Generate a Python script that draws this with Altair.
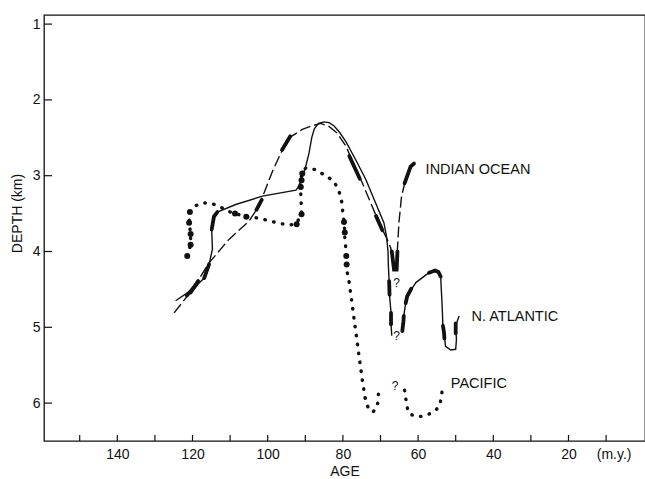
import altair as alt
import pandas as pd

# ---------------- data ----------------
AGE_LABEL_TICKS = [140, 120, 100, 80, 60, 40, 20, 8]      # 8 -> "(m.y.)"
AGE_ALL_TICKS = [150, 140, 130, 120, 110, 100, 90, 80, 70, 60, 50, 40, 30, 20, 10]
DEPTH_TICKS = [1, 2, 3, 4, 5, 6]

INDIAN_AGE = [124.9, 120.0, 115.6, 110.3, 105.0, 102.3, 101.0, 98.8, 96.5, 94.3, 90.8,
              88.1, 85.9, 83.7, 81.5, 79.2, 77.0, 74.8, 72.6, 70.4, 68.6, 67.3, 66.8,
              66.4, 65.7, 65.5, 65.1, 64.4, 63.3, 62.0, 61.1]
INDIAN_DEPTH = [4.81, 4.50, 4.15, 3.84, 3.60, 3.40, 3.23, 2.95, 2.70, 2.50, 2.39,
                2.34, 2.31, 2.35, 2.44, 2.61, 2.86, 3.10, 3.36, 3.62, 3.80, 3.95, 4.05,
                4.24, 4.24, 3.97, 3.62, 3.27, 3.05, 2.88, 2.84]
INDIAN_THICK = [
    [(120.5, 4.54), (118.5, 4.39)],
    [(103.0, 3.45), (101.6, 3.32)],
    [(96.2, 2.66), (94.0, 2.48)],
    [(78.3, 2.74), (75.5, 3.04)],
    [(71.2, 3.53), (69.5, 3.72)],
    [(67.0, 4.00), (66.4, 4.24), (65.7, 4.24), (65.5, 4.00)],
    [(63.6, 3.10), (62.0, 2.88), (61.1, 2.84)],
]

NATL_SEGS = [
    ([124.5, 120.0, 116.9, 115.6, 114.7, 114.9, 114.3, 113.4, 108.5, 101.4, 92.5, 92.0,
      91.0, 89.9, 89.0, 88.3, 87.6, 86.5, 85.0, 83.7, 82.4, 81.0, 79.2, 76.6, 73.9,
      71.3, 69.1, 68.4, 68.0, 67.9, 67.7, 67.6, 67.2, 67.2, 67.0],
     [4.65, 4.50, 4.35, 4.17, 3.97, 3.71, 3.54, 3.48, 3.38, 3.27, 3.19, 3.16,
      3.05, 2.88, 2.70, 2.50, 2.38, 2.31, 2.29, 2.30, 2.34, 2.42, 2.55, 2.79, 3.05,
      3.36, 3.62, 3.80, 4.00, 4.20, 4.39, 4.57, 4.81, 4.96, 5.11]),
    ([64.2, 63.9, 63.7, 63.3, 62.9, 60.6, 57.1, 55.5, 54.6, 54.0, 53.6, 53.4, 53.1,
      52.7, 51.3, 50.0, 49.8, 50.0, 49.1],
     [5.05, 4.92, 4.81, 4.68, 4.59, 4.41, 4.28, 4.25, 4.27, 4.33, 4.72, 4.98, 5.07,
      5.25, 5.30, 5.29, 5.16, 4.98, 4.85]),
]
NATL_THICK = [
    [(121.5, 4.58), (119.0, 4.44)],
    [(116.9, 4.35), (115.6, 4.17)],
    [(114.9, 3.71), (114.3, 3.54), (113.4, 3.48)],
    [(67.7, 4.39), (67.6, 4.57)],
    [(67.2, 4.81), (67.2, 4.96)],
    [(64.2, 5.05), (63.9, 4.92), (63.8, 4.85)],
    [(63.3, 4.68), (62.9, 4.59), (61.8, 4.49)],
    [(57.1, 4.28), (55.5, 4.25), (54.6, 4.27), (54.0, 4.33)],
    [(53.4, 4.98), (53.1, 5.07), (53.0, 5.15)],
    [(50.0, 5.08), (50.0, 4.95)],
]

PAC_SEGS = [
    ([121.4, 120.5, 120.5, 120.9, 120.7, 119.4, 117.4, 115.3, 113.1, 110.5, 108.7, 105.7,
      102.3, 99.2, 96.8, 94.3, 92.5, 91.0, 91.0, 91.2, 91.2, 90.8, 89.9, 87.2, 85.0,
      82.4, 81.0, 80.3, 80.0, 79.7, 79.5, 79.5, 79.2, 79.1, 79.0, 78.8, 78.4, 77.8,
      77.2, 76.6, 76.0, 75.4, 74.8, 74.1, 73.3, 72.0, 70.8, 70.6, 70.4],
     [4.06, 3.91, 3.77, 3.62, 3.48, 3.40, 3.36, 3.36, 3.40, 3.47, 3.50, 3.54,
      3.56, 3.60, 3.63, 3.65, 3.64, 3.51, 3.40, 3.32, 3.05, 2.96, 2.90, 2.92, 2.99,
      3.07, 3.21, 3.35, 3.49, 3.61, 3.75, 3.86, 3.96, 4.06, 4.17, 4.29, 4.39, 4.60,
      4.83, 5.05, 5.27, 5.49, 5.71, 5.93, 6.06, 6.12, 6.03, 5.90, 5.79]),
    ([63.6, 63.3, 63.0, 62.4, 60.4, 58.2, 56.0, 54.4, 54.0, 53.7, 53.4],
     [5.83, 5.93, 6.04, 6.14, 6.18, 6.17, 6.12, 6.05, 5.97, 5.87, 5.76]),
]
PAC_BIG_AGE = [121.4, 120.5, 120.5, 120.9, 120.7, 108.7, 105.7, 92.3, 91.0, 91.2, 91.0,
               90.8, 79.7, 79.5, 79.1, 79.0]
PAC_BIG_DEPTH = [4.06, 3.91, 3.77, 3.62, 3.48, 3.50, 3.54, 3.64, 3.51, 3.15, 3.06,
                 2.97, 3.61, 3.75, 4.06, 4.17]

LABEL_TEXT = ["INDIAN OCEAN", "N. ATLANTIC", "PACIFIC"]
LABEL_AGE = [58.0, 45.8, 51.3]
LABEL_DEPTH = [2.93, 4.87, 5.75]

Q_AGE = [65.7, 65.7, 66.1]
Q_DEPTH = [4.42, 5.11, 5.77]

# ---------------- build tables ----------------
def path_df(segs):
    rows = []
    for s, (ages, depths) in enumerate(segs):
        for i, (a, d) in enumerate(zip(ages, depths)):
            rows.append({"age": a, "depth": d, "seg": s, "i": i})
    return pd.DataFrame(rows)

def thick_df(segs):
    rows = []
    for s, pts in enumerate(segs):
        for i, (a, d) in enumerate(pts):
            rows.append({"age": a, "depth": d, "seg": s, "i": i})
    return pd.DataFrame(rows)

indian = path_df([(INDIAN_AGE, INDIAN_DEPTH)])
indian_thick = thick_df(INDIAN_THICK)
natl = path_df(NATL_SEGS)
natl_thick = thick_df(NATL_THICK)
pac = path_df(PAC_SEGS)
pac_big = pd.DataFrame({"age": PAC_BIG_AGE, "depth": PAC_BIG_DEPTH})
labels = pd.DataFrame({"age": LABEL_AGE, "depth": LABEL_DEPTH, "text": LABEL_TEXT})
qmarks = pd.DataFrame({"age": Q_AGE, "depth": Q_DEPTH, "text": ["?"] * len(Q_AGE)})
xticks = pd.DataFrame({"age": AGE_ALL_TICKS})
yticks = pd.DataFrame({"depth": DEPTH_TICKS})

W, H = 601, 426
FONT = "Liberation Sans"
INK = "#111111"

xscale = alt.Scale(domain=[159.5, -0.35], nice=False, zero=False)
yscale = alt.Scale(domain=[6.5, 0.88], nice=False, zero=False)

xaxis = alt.Axis(values=AGE_LABEL_TICKS,
                 labelExpr="datum.value == 8 ? '(m.y.)' : datum.label",
                 ticks=False, domain=False, grid=False, labelFlush=False,
                 labelOverlap=False, labelPadding=6, labelFontSize=14,
                 title="AGE", titleFontSize=14, titleY=34, titleBaseline="alphabetic")
yaxis = alt.Axis(values=DEPTH_TICKS, format="d", ticks=False, domain=False, grid=False,
                 labelPadding=4, labelFontSize=14, labelFlush=False,
                 title="DEPTH (km)", titleFontSize=14, titleAngle=270,
                 titleX=-27, titleY=198, titleAlign="center", titleBaseline="middle")

X = alt.X("age:Q", scale=xscale, axis=xaxis)
Y = alt.Y("depth:Q", scale=yscale, axis=yaxis)

tick_x = alt.Chart(xticks).mark_rule(color=INK, strokeWidth=1.2).encode(
    x=X, y=alt.value(H - 6), y2=alt.value(H))
tick_y = alt.Chart(yticks).mark_rule(color=INK, strokeWidth=1.2).encode(
    y=Y, x=alt.value(0), x2=alt.value(8))

ind_line = alt.Chart(indian).mark_line(color=INK, strokeWidth=1.4, strokeDash=[11, 4]).encode(
    x=X, y=Y, order="i:Q")
ind_thick = alt.Chart(indian_thick).mark_line(color=INK, strokeWidth=3.8, strokeCap="round").encode(
    x=X, y=Y, detail="seg:N", order="i:Q")

na_line = alt.Chart(natl).mark_line(color=INK, strokeWidth=1.4).encode(
    x=X, y=Y, detail="seg:N", order="i:Q")
na_thick = alt.Chart(natl_thick).mark_line(color=INK, strokeWidth=3.8, strokeCap="round").encode(
    x=X, y=Y, detail="seg:N", order="i:Q")

pac_line = alt.Chart(pac).mark_line(color=INK, strokeWidth=3.4, strokeDash=[0.5, 8.5],
                                     strokeCap="round").encode(
    x=X, y=Y, detail="seg:N", order="i:Q")
pac_dots = alt.Chart(pac_big).mark_circle(color=INK, size=36, opacity=1).encode(x=X, y=Y)

lab = alt.Chart(labels).mark_text(font=FONT, fontSize=14.5, align="left", baseline="middle",
                                  color=INK).encode(x=X, y=Y, text="text:N")
qm = alt.Chart(qmarks).mark_text(font=FONT, fontSize=12, align="center", baseline="middle",
                                 color=INK).encode(x=X, y=Y, text="text:N")

chart = alt.layer(tick_x, tick_y, ind_line, ind_thick, na_line, na_thick,
                  pac_line, pac_dots, lab, qm).properties(
    width=W, height=H,
    autosize=alt.AutoSizeParams(type="none"),
    padding={"left": 44, "top": 15, "right": 0, "bottom": 38},
    background="white",
).configure_view(stroke=INK, strokeWidth=1.3).configure_axis(
    labelFont=FONT, titleFont=FONT, labelColor=INK, titleColor=INK,
    titleFontWeight="normal")

chart.save("out.html", embed_options={"renderer": "svg", "actions": False})
